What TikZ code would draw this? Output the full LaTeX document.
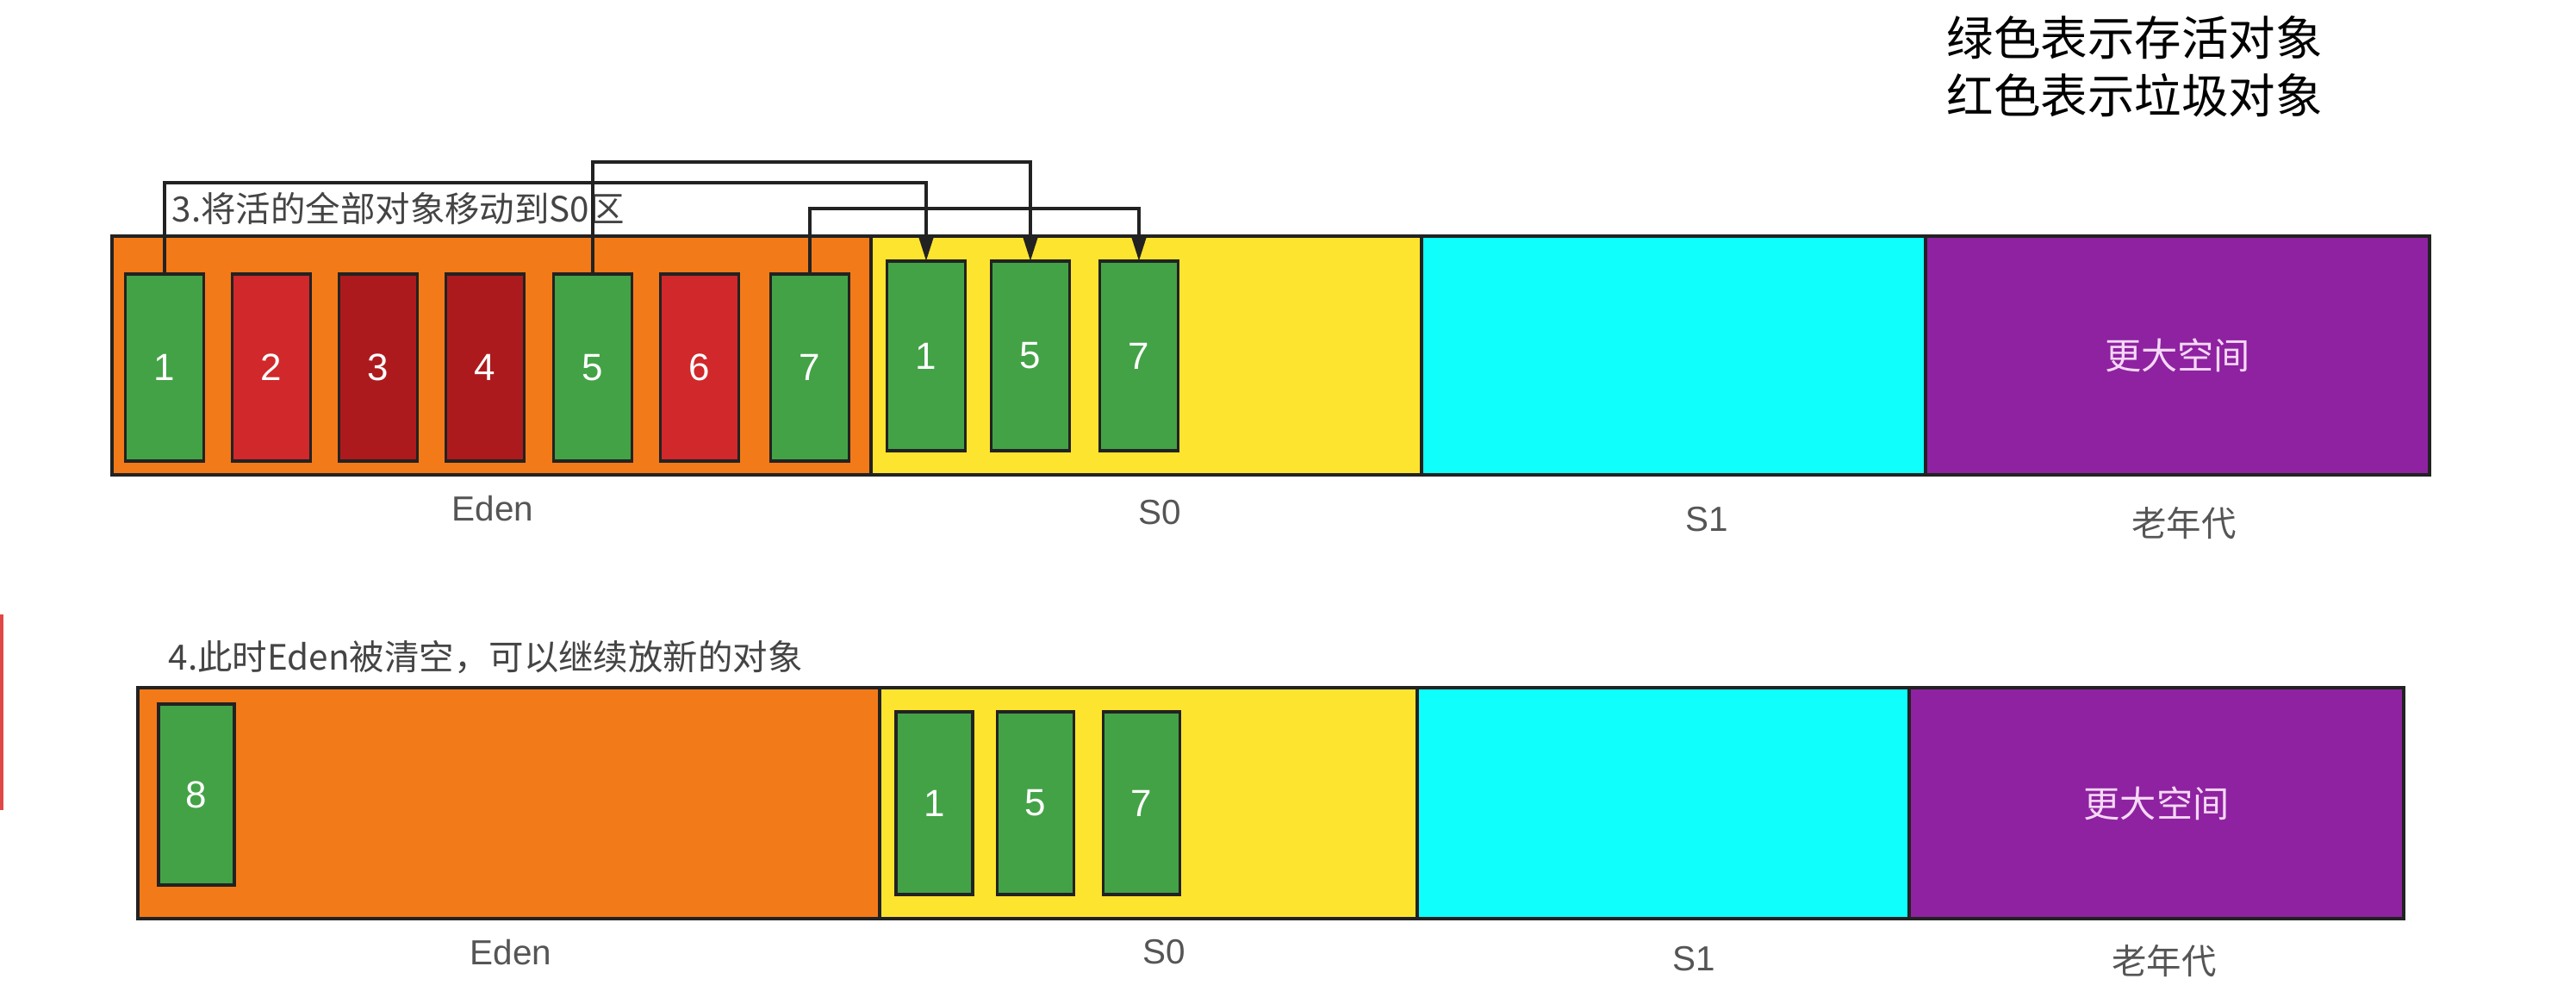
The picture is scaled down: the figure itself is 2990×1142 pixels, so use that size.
\documentclass[tikz,border=0pt]{standalone}
\usepackage{fontspec}
\setmainfont{Liberation Sans}
\newfontfamily\cjk{Noto Sans CJK SC}
\usetikzlibrary{arrows.meta}
\definecolor{edenc}{HTML}{F37A18}
\definecolor{szeroc}{HTML}{FDE42F}
\definecolor{sonec}{HTML}{0FFFFC}
\definecolor{oldc}{HTML}{8E22A1}
\definecolor{livec}{HTML}{43A246}
\definecolor{deadc}{HTML}{D0282B}
\definecolor{deaddc}{HTML}{AD1A1D}
\definecolor{bordc}{HTML}{222222}
\definecolor{lblc}{HTML}{555555}
\definecolor{notec}{HTML}{444444}
\definecolor{oldtxt}{HTML}{F6D8F6}
\definecolor{redmark}{HTML}{E04848}
\begin{document}
\begin{tikzpicture}[x=0.01cm,y=-0.01cm,
  region/.style={draw=bordc, line width=1pt, inner sep=0pt, outer sep=0pt},
  rtop/.style={region, minimum height=2.77cm},
  rbot/.style={region, minimum height=2.68cm},
  obj/.style={draw=bordc, line width=1.1pt, text=white, inner sep=0pt, outer sep=0pt,
    font=\fontsize{12.5}{14}\selectfont},
  live/.style={obj, fill=livec},
  dead/.style={obj, fill=deadc},
  deadd/.style={obj, fill=deaddc},
  otop/.style={minimum width=0.91cm, minimum height=2.17cm},
  stop/.style={minimum width=0.91cm, minimum height=2.20cm},
  sbot/.style={minimum width=0.89cm, minimum height=2.12cm},
  lbl/.style={text=lblc, font=\fontsize{11.5}{13}\selectfont},
  cjklbl/.style={text=lblc, font=\cjk\fontsize{11.5}{13}\selectfont},
  oldlbl/.style={text=oldtxt, font=\cjk\fontsize{12}{14}\selectfont},
  note/.style={text=notec, font=\cjk\fontsize{11.5}{13}\selectfont, anchor=west, inner sep=0pt},
  legend/.style={text=black, font=\cjk\fontsize{15.5}{18}\selectfont, anchor=west, inner sep=0pt},
  arr/.style={draw=bordc, line width=1pt, -{Triangle[length=0.27cm,width=0.16cm]}}
]
\useasboundingbox (0,0) rectangle (2990,1142);

% legend
\node[legend] (leg1) at (2259,44) {绿色表示存活对象};
\node[legend] (leg2) at (2259,111) {红色表示垃圾对象};

% ---------- top row ----------
\node[rtop, fill=edenc, minimum width=8.81cm] (eden1) at (570.5,412.5) {};
\node[rtop, fill=szeroc, minimum width=6.39cm] (szero1) at (1330.5,412.5) {};
\node[rtop, fill=sonec, minimum width=5.85cm] (sone1) at (1942.5,412.5) {};
\node[rtop, fill=oldc, minimum width=5.85cm] (old1) at (2527.5,412.5) {};
\node[oldlbl] (oldtxt1) at (old1.center) {更大空间};

\node[live, otop] (a1) at (191,426.5) {1};
\node[dead, otop] (a2) at (315,426.5) {2};
\node[deadd, otop] (a3) at (439,426.5) {3};
\node[deadd, otop] (a4) at (563,426.5) {4};
\node[live, otop] (a5) at (688,426.5) {5};
\node[dead, otop] (a6) at (812,426.5) {6};
\node[live, otop] (a7) at (940,426.5) {7};

\node[live, stop] (b1) at (1075,413) {1};
\node[live, stop] (b5) at (1196,413) {5};
\node[live, stop] (b7) at (1322,413) {7};

\node[note] (note3) at (199,242) {3.将活的全部对象移动到S0区};

\coordinate (h1) at (0,212);
\coordinate (h5) at (0,188);
\coordinate (h7) at (0,242);
\draw[arr] (a1.north) -- (a1.north |- h1) -| (b1.north);
\draw[arr] (a5.north) -- (a5.north |- h5) -| (b5.north);
\draw[arr] (a7.north) -- (a7.north |- h7) -| (b7.north);

\node[lbl] (ledent) at (572,590) {Eden};
\node[lbl] (lszerot) at (1346,595) {S0};
\node[lbl] (lsonet) at (1981,603) {S1};
\node[cjklbl] (loldt) at (2535,607) {老年代};

% ---------- bottom row ----------
\node[note] (note4) at (195,763) {4.此时Eden被清空，可以继续放新的对象};

\node[rbot, fill=edenc, minimum width=8.61cm] (eden2) at (590.5,932) {};
\node[rbot, fill=szeroc, minimum width=6.24cm] (szero2) at (1333,932) {};
\node[rbot, fill=sonec, minimum width=5.71cm] (sone2) at (1930.5,932) {};
\node[rbot, fill=oldc, minimum width=5.74cm] (old2) at (2503,932) {};
\node[oldlbl] (oldtxt2) at (old2.center) {更大空间};

\node[live, minimum width=0.88cm, minimum height=2.10cm] (c8) at (228,922) {8};
\node[live, sbot] (d1) at (1084.5,932) {1};
\node[live, sbot] (d5) at (1202,932) {5};
\node[live, sbot] (d7) at (1325,932) {7};

\node[lbl] (ledenb) at (593,1105) {Eden};
\node[lbl] (lszerob) at (1351,1105) {S0};
\node[lbl] (lsoneb) at (1966,1113) {S1};
\node[cjklbl] (loldb) at (2512,1115) {老年代};

% red mark at left edge
\draw[redmark, line width=0.03cm] (2,713) -- (2,940);
\end{tikzpicture}
\end{document}
